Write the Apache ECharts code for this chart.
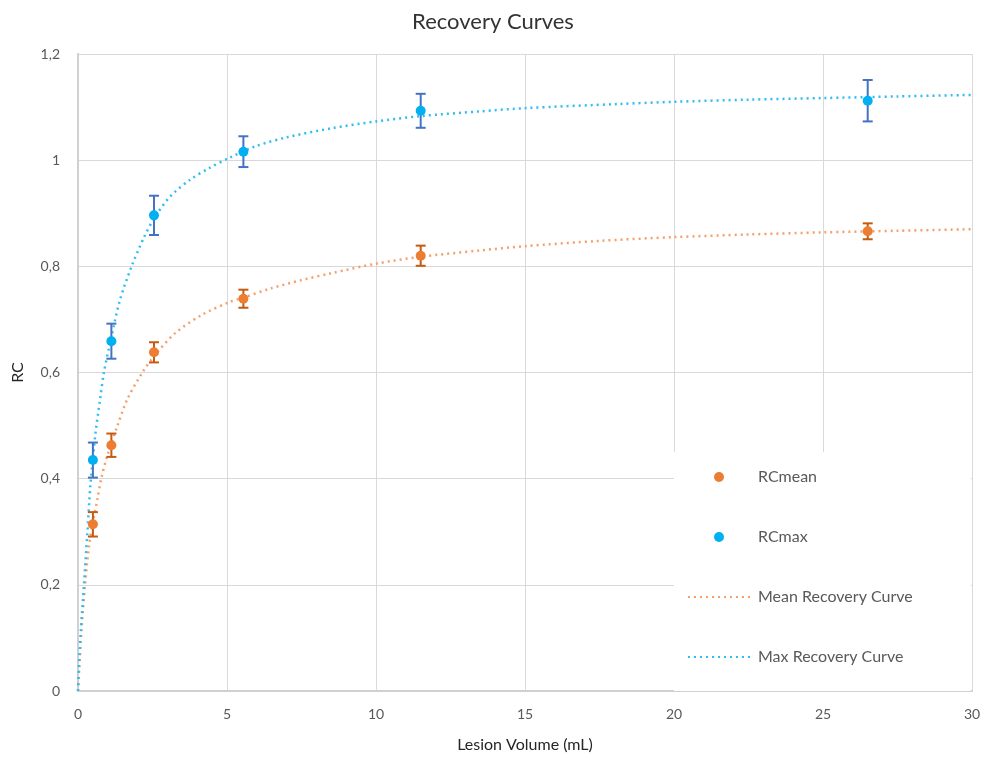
<!DOCTYPE html>
<html>
<head>
<meta charset="utf-8">
<script src="https://cdn.jsdelivr.net/npm/echarts@6/dist/echarts.min.js"></script>
<style>
html,body{margin:0;padding:0;background:#fff;}
#chart{width:986px;height:758px;}
</style>
</head>
<body>
<div id="chart"></div>
<script>
// ---- data ----
const volumes = [0.5, 1.12, 2.55, 5.55, 11.5, 26.5];
const rcMean = [0.314, 0.463, 0.638, 0.739, 0.820, 0.866];
const rcMeanErr = [0.023, 0.022, 0.019, 0.017, 0.019, 0.015];
const rcMax = [0.435, 0.659, 0.896, 1.016, 1.093, 1.112];
const rcMaxErr = [0.033, 0.033, 0.037, 0.029, 0.032, 0.039];

const meanCurveX = [0, 0.04, 0.11, 0.235, 0.37, 0.5, 0.65, 0.78, 0.98, 1.32, 1.65, 2.16, 2.6, 3.28, 4.17, 5.1, 5.55, 6.44, 7.5, 8.5, 10, 11.5, 13.5, 15, 17.5, 20, 22.5, 25, 27.5, 30];
const meanCurveY = [0, 0.04, 0.11, 0.2, 0.273, 0.318, 0.361, 0.4, 0.443, 0.499, 0.549, 0.6, 0.634, 0.675, 0.709, 0.733, 0.741, 0.758, 0.774, 0.787, 0.805, 0.818, 0.830, 0.838, 0.848, 0.855, 0.860, 0.864, 0.867, 0.870];
const maxCurveX = [0, 0.03, 0.09, 0.2, 0.31, 0.42, 0.59, 0.74, 0.87, 1.1, 1.41, 1.8, 2.2, 2.55, 3.1, 3.76, 4.4, 5.1, 6, 7, 8.5, 10, 11.5, 13.5, 15, 18.2, 20, 22.5, 25, 27.5, 30];
const maxCurveY = [0, 0.045, 0.11, 0.2, 0.295, 0.39, 0.487, 0.549, 0.6, 0.662, 0.737, 0.8, 0.853, 0.89, 0.932, 0.963, 0.985, 1.005, 1.027, 1.043, 1.06, 1.073, 1.083, 1.092, 1.098, 1.106, 1.110, 1.114, 1.117, 1.120, 1.123];

const xTicks = {min: 0, max: 30, interval: 5};
const yTicks = {min: 0, max: 1.2, interval: 0.2};

const seriesNames = ['RCmean', 'RCmax', 'Mean Recovery Curve', 'Max Recovery Curve'];

// ---- build ----
const zip = (a, b) => a.map((v, i) => [v, b[i]]);
const errData = (vals, errs) => volumes.map((x, i) => [x, vals[i] - errs[i], vals[i] + errs[i]]);

function errorBar(color) {
  return function (params, api) {
    const x = api.value(0);
    const lo = api.coord([x, api.value(1)]);
    const hi = api.coord([x, api.value(2)]);
    const cap = 5;
    const style = {stroke: color, lineWidth: 2};
    return {
      type: 'group',
      children: [
        {type: 'line', shape: {x1: lo[0], y1: lo[1], x2: hi[0], y2: hi[1]}, style: style},
        {type: 'line', shape: {x1: lo[0] - cap, y1: lo[1], x2: lo[0] + cap, y2: lo[1]}, style: style},
        {type: 'line', shape: {x1: hi[0] - cap, y1: hi[1], x2: hi[0] + cap, y2: hi[1]}, style: style}
      ]
    };
  };
}

const FONT = 'Lato, "Open Sans", sans-serif';
const chart = echarts.init(document.getElementById('chart'));
chart.setOption({
  backgroundColor: '#fff',
  animation: false,
  title: {
    text: 'Recovery Curves',
    left: 'center',
    top: 6,
    textStyle: {fontFamily: FONT, fontSize: 22, fontWeight: 'normal', color: '#333'}
  },
  grid: {left: 78, right: 14, top: 54, bottom: 66},
  legend: {
    data: [
      seriesNames[0],
      seriesNames[1],
      {name: seriesNames[2], itemStyle: {opacity: 0}},
      {name: seriesNames[3], itemStyle: {opacity: 0}}
    ],
    orient: 'vertical',
    left: 674,
    top: 452,
    backgroundColor: '#fff',
    padding: [17, 58, 26, 13],
    itemWidth: 62,
    itemHeight: 10,
    itemGap: 44,
    textStyle: {fontFamily: FONT, fontSize: 16, color: '#595959', padding: [0, 0, 0, 3]}
  },
  xAxis: {
    type: 'value',
    min: xTicks.min, max: xTicks.max, interval: xTicks.interval,
    name: 'Lesion Volume (mL)',
    nameLocation: 'middle',
    nameGap: 46,
    nameTextStyle: {fontFamily: FONT, fontSize: 16, color: '#262626'},
    axisLine: {show: true, lineStyle: {color: '#d0d0d0', width: 2}},
    axisTick: {show: false},
    axisLabel: {fontFamily: FONT, fontSize: 14, color: '#595959', margin: 16},
    splitLine: {show: true, lineStyle: {color: '#d9d9d9', width: 1}}
  },
  yAxis: {
    type: 'value',
    min: yTicks.min, max: yTicks.max, interval: yTicks.interval,
    name: 'RC',
    nameLocation: 'middle',
    nameGap: 52,
    nameTextStyle: {fontFamily: FONT, fontSize: 16, color: '#262626'},
    axisLine: {show: true, lineStyle: {color: '#d0d0d0', width: 2}},
    axisTick: {show: false},
    axisLabel: {
      fontFamily: FONT, fontSize: 14, color: '#595959', margin: 18,
      formatter: v => String(Math.round(v * 10) / 10).replace('.', ',')
    },
    splitLine: {show: true, lineStyle: {color: '#d9d9d9', width: 1}}
  },
  series: [
    {
      name: 'Mean Recovery Curve', type: 'line', data: zip(meanCurveX, meanCurveY),
      smooth: 0.3, symbol: 'none', z: 1,
      itemStyle: {color: '#ED7D31'},
      lineStyle: {color: '#F4A06A', width: 2.5, type: [2, 4]}
    },
    {
      name: 'Max Recovery Curve', type: 'line', data: zip(maxCurveX, maxCurveY),
      smooth: 0.3, symbol: 'none', z: 1,
      itemStyle: {color: '#00B0F0'},
      lineStyle: {color: '#2FBDF2', width: 2.5, type: [2, 4]}
    },
    {
      type: 'custom', name: 'meanErr', data: errData(rcMean, rcMeanErr),
      encode: {x: 0, y: [1, 2]}, renderItem: errorBar('#C55A11'), z: 2, silent: true
    },
    {
      type: 'custom', name: 'maxErr', data: errData(rcMax, rcMaxErr),
      encode: {x: 0, y: [1, 2]}, renderItem: errorBar('#4472C4'), z: 2, silent: true
    },
    {
      name: 'RCmean', type: 'scatter', data: zip(volumes, rcMean),
      symbolSize: 10, z: 3, itemStyle: {color: '#ED7D31', opacity: 1}
    },
    {
      name: 'RCmax', type: 'scatter', data: zip(volumes, rcMax),
      symbolSize: 10, z: 3, itemStyle: {color: '#00B0F0', opacity: 1}
    }
  ]
});
</script>
</body>
</html>
